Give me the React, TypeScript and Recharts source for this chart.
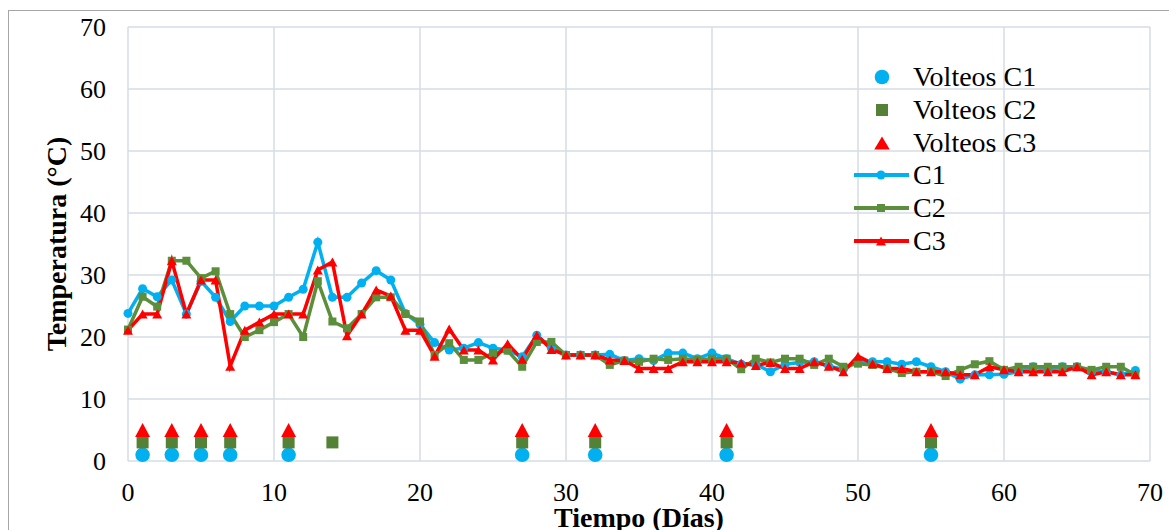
import React from 'react';
import {
  ComposedChart,
  Line,
  Scatter,
  XAxis,
  YAxis,
  CartesianGrid,
} from 'recharts';

// Temperatura diaria (°C), día 0..69
const c1 = [
  23.8, 27.8, 26.5, 29.2, 23.7, 29.0, 26.4, 22.5, 25.0, 25.0,
  25.0, 26.4, 27.7, 35.3, 26.4, 26.4, 28.7, 30.7, 29.2, 23.8,
  22.0, 19.1, 17.9, 18.2, 19.1, 18.2, 17.9, 16.8, 20.3, 18.2,
  17.1, 17.1, 17.1, 17.2, 16.2, 16.5, 16.2, 17.4, 17.4, 16.5,
  17.4, 16.5, 15.6, 15.6, 14.4, 15.6, 15.9, 16.0, 15.3, 14.8,
  16.1, 16.0, 16.0, 15.6, 16.0, 15.2, 14.4, 13.2, 13.9, 13.9,
  14.0, 14.4, 15.2, 14.6, 15.2, 15.2, 14.4, 14.4, 13.9, 14.6,
];
const c2 = [
  21.2, 26.5, 24.9, 32.3, 32.3, 29.5, 30.6, 23.7, 20.0, 21.1,
  22.4, 23.7, 20.0, 29.0, 22.5, 21.4, 23.7, 26.4, 26.4, 23.7,
  22.5, 17.1, 19.0, 16.3, 16.3, 17.4, 17.8, 15.2, 19.2, 19.2,
  17.1, 17.1, 17.1, 15.5, 16.2, 16.0, 16.5, 16.3, 16.5, 16.3,
  16.5, 16.5, 14.8, 16.5, 15.9, 16.5, 16.5, 15.5, 16.5, 15.2,
  15.7, 15.5, 14.9, 14.2, 14.4, 14.4, 13.7, 14.7, 15.6, 16.1,
  14.7, 15.2, 15.2, 15.2, 15.2, 15.2, 14.7, 15.2, 15.2, 13.9,
];
const c3 = [
  21.1, 23.7, 23.7, 32.3, 23.7, 29.2, 29.2, 15.3, 21.1, 22.4,
  23.7, 23.7, 23.7, 30.8, 32.1, 20.2, 23.7, 27.6, 26.6, 21.1,
  21.1, 16.9, 21.3, 17.9, 17.9, 16.3, 18.9, 16.4, 20.3, 18.0,
  17.1, 17.1, 17.1, 16.3, 16.2, 14.9, 14.9, 14.9, 16.0, 16.0,
  16.0, 16.0, 15.8, 15.4, 15.9, 14.9, 14.9, 16.0, 15.3, 14.4,
  16.9, 15.7, 14.9, 14.9, 14.4, 14.4, 14.4, 13.9, 13.9, 15.2,
  14.7, 14.4, 14.4, 14.4, 14.4, 15.2, 13.9, 14.4, 13.9, 13.9,
];

// Días de volteo y la altura a la que se marcan
const volteosC1Days = [1, 3, 5, 7, 11, 27, 32, 41, 55];
const volteosC2Days = [1, 3, 5, 7, 11, 14, 27, 32, 41, 55];
const volteosC3Days = [1, 3, 5, 7, 11, 27, 32, 41, 55];
const volteosC1Level = 1;
const volteosC2Level = 3;
const volteosC3Level = 5;

const axisTicks = [0, 10, 20, 30, 40, 50, 60, 70];

const BLUE = '#00b0f0';
const GREEN = '#5b8f3b';
const GREEN_DARK = '#538135';
const RED = '#ff0000';
const FONT = '"Liberation Serif", "Times New Roman", serif';

const lineData = c1.map((v, i) => ({ day: i, c1: v, c2: c2[i], c3: c3[i] }));
const volC1 = volteosC1Days.map((d) => ({ day: d, v: volteosC1Level }));
const volC2 = volteosC2Days.map((d) => ({ day: d, v: volteosC2Level }));
const volC3 = volteosC3Days.map((d) => ({ day: d, v: volteosC3Level }));

const tri = (cx: number, cy: number, w: number, h: number) =>
  `${cx},${cy - h / 2} ${cx + w / 2},${cy + h / 2} ${cx - w / 2},${cy + h / 2}`;

const SquareDot = (props: any) => {
  const { cx, cy, index } = props;
  if (cx == null || cy == null) return <g key={index} />;
  return <rect key={index} x={cx - 4} y={cy - 4} width={8} height={8} fill={GREEN} />;
};

const TriDot = (props: any) => {
  const { cx, cy, index } = props;
  if (cx == null || cy == null) return <g key={index} />;
  return <polygon key={index} points={tri(cx, cy, 10, 9)} fill={RED} />;
};

const legendRows = [
  { name: 'Volteos C1', kind: 'circle' },
  { name: 'Volteos C2', kind: 'square' },
  { name: 'Volteos C3', kind: 'triangle' },
  { name: 'C1', kind: 'line1' },
  { name: 'C2', kind: 'line2' },
  { name: 'C3', kind: 'line3' },
];

const LegendIcon = ({ kind }: { kind: string }) => {
  const cx = 28;
  const cy = 16;
  let inner: React.ReactNode = null;
  if (kind === 'circle') inner = <circle cx={cx} cy={cy} r={7.3} fill={BLUE} />;
  if (kind === 'square') inner = <rect x={cx - 6} y={cy - 6} width={12} height={12} fill={GREEN_DARK} />;
  if (kind === 'triangle') inner = <polygon points={tri(cx, cy, 15.5, 13)} fill={RED} />;
  if (kind === 'line1')
    inner = (
      <g>
        <line x1={0} y1={cy} x2={55} y2={cy} stroke={BLUE} strokeWidth={4} />
        <circle cx={27} cy={cy} r={4.5} fill={BLUE} />
      </g>
    );
  if (kind === 'line2')
    inner = (
      <g>
        <line x1={0} y1={cy} x2={55} y2={cy} stroke={GREEN} strokeWidth={4} />
        <rect x={23} y={cy - 4} width={8} height={8} fill={GREEN} />
      </g>
    );
  if (kind === 'line3')
    inner = (
      <g>
        <line x1={0} y1={cy} x2={55} y2={cy} stroke={RED} strokeWidth={4} />
        <polygon points={tri(27, cy, 10, 9)} fill={RED} />
      </g>
    );
  return (
    <svg width={59} height={32} style={{ display: 'block', flex: 'none' }}>
      {inner}
    </svg>
  );
};

export default function App() {
  return (
    <div
      style={{
        position: 'fixed',
        left: 8,
        top: 10,
        width: 1161,
        height: 520,
        borderTop: '1px solid #a6a6a6',
        borderLeft: '1px solid #a6a6a6',
        background: '#fff',
        overflow: 'hidden',
        boxSizing: 'border-box',
      }}
    >
      <div style={{ position: 'absolute', left: -1, top: -1 }}>
        <ComposedChart
          width={1161}
          height={520}
          data={lineData}
          margin={{ top: 17, right: 19, bottom: 39, left: 60 }}
        >
          <CartesianGrid stroke="#d6dce4" strokeWidth={1.5} />
          <XAxis
            type="number"
            dataKey="day"
            domain={[0, 70]}
            ticks={axisTicks}
            axisLine={false}
            tickLine={false}
            tickSize={0}
            tickMargin={22}
            height={30}
            tick={{ fill: '#000', fontSize: 26, fontFamily: FONT }}
            interval={0}
            label={{
              content: () => (
                <text
                  x={631}
                  y={517}
                  textAnchor="middle"
                  fontFamily={FONT}
                  fontWeight="bold"
                  fontSize={28}
                  fill="#000"
                >
                  Tiempo (Días)
                </text>
              ),
            }}
          />
          <YAxis
            type="number"
            domain={[0, 70]}
            ticks={axisTicks}
            axisLine={false}
            tickLine={false}
            tickSize={0}
            tickMargin={22}
            width={60}
            interval={0}
            tick={{ fill: '#000', fontSize: 26, fontFamily: FONT }}
            label={{
              content: () => (
                <text
                  x={58}
                  y={234}
                  transform="rotate(-90 58 234)"
                  textAnchor="middle"
                  fontFamily={FONT}
                  fontWeight="bold"
                  fontSize={28}
                  fill="#000"
                >
                  Temperatura (°C)
                </text>
              ),
            }}
          />
          <Scatter
            name="Volteos C1"
            data={volC1}
            dataKey="v"
            isAnimationActive={false}
            shape={(p: any) => <circle cx={p.cx} cy={p.cy} r={7.3} fill={BLUE} />}
          />
          <Scatter
            name="Volteos C2"
            data={volC2}
            dataKey="v"
            isAnimationActive={false}
            shape={(p: any) => (
              <rect x={p.cx - 6} y={p.cy - 6} width={12} height={12} fill={GREEN_DARK} />
            )}
          />
          <Scatter
            name="Volteos C3"
            data={volC3}
            dataKey="v"
            isAnimationActive={false}
            shape={(p: any) => <polygon points={tri(p.cx, p.cy, 15, 14)} fill={RED} />}
          />
          <Line
            type="linear"
            dataKey="c1"
            name="C1"
            stroke={BLUE}
            strokeWidth={3.5}
            dot={{ r: 4.5, fill: BLUE, stroke: BLUE, strokeWidth: 0 }}
            activeDot={false}
            isAnimationActive={false}
          />
          <Line
            type="linear"
            dataKey="c2"
            name="C2"
            stroke={GREEN}
            strokeWidth={3.5}
            dot={SquareDot}
            activeDot={false}
            isAnimationActive={false}
          />
          <Line
            type="linear"
            dataKey="c3"
            name="C3"
            stroke={RED}
            strokeWidth={3.5}
            dot={TriDot}
            activeDot={false}
            isAnimationActive={false}
          />
        </ComposedChart>
      </div>
      <div
        style={{
          position: 'absolute',
          left: 845,
          top: 50,
          fontFamily: FONT,
          fontSize: 28,
          color: '#000',
        }}
      >
        {legendRows.map((r) => (
          <div
            key={r.name}
            style={{ display: 'flex', alignItems: 'center', height: 32.7, lineHeight: '32px' }}
          >
            <LegendIcon kind={r.kind} />
            <span style={{ whiteSpace: 'nowrap' }}>{r.name}</span>
          </div>
        ))}
      </div>
    </div>
  );
}
